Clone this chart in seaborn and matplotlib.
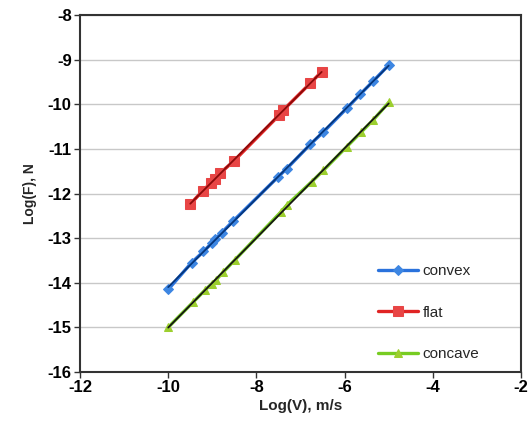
import matplotlib
matplotlib.use("Agg")
import matplotlib.pyplot as plt
import seaborn as sns
import pandas as pd
import numpy as np

# ---- data ----
convex_x = [-10.0, -9.47, -9.2, -9.01, -8.94, -8.79, -8.52, -7.5, -7.31, -6.78, -6.48, -5.95, -5.65, -5.35, -5.0]
convex_y = [-14.15, -13.55, -13.3, -13.11, -13.03, -12.88, -12.61, -11.62, -11.44, -10.9, -10.62, -10.09, -9.78, -9.48, -9.12]

flat_x = [-9.5, -9.22, -9.04, -8.95, -8.83, -8.51, -7.48, -7.39, -6.78, -6.52]
flat_y = [-12.24, -11.94, -11.77, -11.68, -11.55, -11.27, -10.24, -10.13, -9.53, -9.27]

concave_x = [-10.0, -9.43, -9.17, -9.01, -8.92, -8.75, -8.49, -7.45, -7.31, -6.75, -6.48, -5.95, -5.63, -5.35, -5.0]
concave_y = [-15.0, -14.43, -14.17, -14.02, -13.94, -13.76, -13.49, -12.42, -12.26, -11.74, -11.48, -10.95, -10.63, -10.35, -9.96]

series_names = ["convex", "flat", "concave"]
x_ticks = [-12, -10, -8, -6, -4, -2]
y_ticks = [-16, -15, -14, -13, -12, -11, -10, -9, -8]

sns.set_theme(style="white")
plt.rcParams['font.family'] = ['Liberation Sans', 'DejaVu Sans']

fig = plt.figure(figsize=(5.3, 4.3), dpi=100)
ax = fig.add_axes([0.151, 0.135, 0.832, 0.830])

styles = {
    "convex":  dict(line="#2a72dc", mk="#3d86e2", trend="#05357a", marker="D", ms=5.0),
    "flat":    dict(line="#e02424", mk="#e84545", trend="#8a0a0a", marker="s", ms=7.0),
    "concave": dict(line="#77cc22", mk="#9ccf2e", trend="#151515", marker="^", ms=6.0),
}
data = {"convex": (convex_x, convex_y), "flat": (flat_x, flat_y), "concave": (concave_x, concave_y)}

for name in series_names:
    xs, ys = data[name]
    st = styles[name]
    df = pd.DataFrame({"x": xs, "y": ys})
    sns.lineplot(data=df, x="x", y="y", ax=ax, sort=False, color=st["line"], lw=2.4,
                 marker=st["marker"], markersize=st["ms"], markerfacecolor=st["mk"],
                 markeredgecolor=st["mk"], label=name, zorder=3)
    sns.regplot(data=df, x="x", y="y", ax=ax, scatter=False, ci=None, truncate=True,
                line_kws=dict(color=st["trend"], lw=1.3, zorder=4))

ax.set_xlim(-12, -2)
ax.set_ylim(-16, -8)
ax.set_xticks(x_ticks)
ax.set_yticks(y_ticks)
ax.set_xticklabels([str(t) for t in x_ticks], fontsize=12, fontweight="bold")
ax.set_yticklabels([str(t) for t in y_ticks], fontsize=12, fontweight="bold")
ax.yaxis.grid(True, color="#c8c8c8", lw=1.0)
ax.xaxis.grid(False)
ax.set_axisbelow(True)
ax.tick_params(axis="both", direction="out", length=4, width=1, colors="#333333",
               labelcolor="black", pad=2, bottom=True, left=True)
for sp in ax.spines.values():
    sp.set_visible(True)
    sp.set_color("#333333")
    sp.set_linewidth(1.5)

ax.set_xlabel("Log(V), m/s", fontsize=11, fontweight="bold", labelpad=3)
ax.set_ylabel("Log(F), N", fontsize=10, fontweight="bold", labelpad=8)

leg = ax.legend(loc="lower right", bbox_to_anchor=(0.93, 0.0), frameon=False, fontsize=11,
                handlelength=2.6, labelspacing=1.8, handletextpad=0.3, borderaxespad=0.3)

fig.savefig("out.png", dpi=100)
